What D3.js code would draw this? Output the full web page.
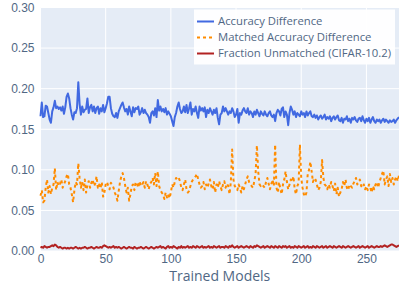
<!DOCTYPE html>
<meta charset="utf-8">
<style>
body { margin: 0; background: #fff; }
svg { font-family: "Open Sans", "DejaVu Sans", sans-serif; }
.tick text { fill: #506784; font-size: 12px; }
.grid line { stroke: #fff; stroke-width: 1; }
</style>
<body>
<svg id="chart" width="399" height="285"></svg>
<script src="https://cdn.jsdelivr.net/npm/d3@7"></script>
<script>

var accDiff = [
  .166,.183,.165,.166,.179,.178,.17,.162,.158,.172,
  .177,.185,.176,.178,.175,.177,.173,.178,.169,.177,
  .19,.194,.188,.176,.168,.162,.171,.17,.176,.208,
  .181,.168,.178,.171,.174,.175,.188,.17,.177,.18,
  .172,.178,.17,.176,.178,.169,.176,.172,.18,.171,
  .176,.182,.19,.19,.176,.169,.166,.165,.17,.164,
  .172,.176,.18,.183,.177,.172,.175,.168,.178,.172,
  .166,.177,.171,.176,.175,.178,.168,.171,.176,.17,
  .174,.17,.168,.165,.158,.17,.172,.167,.176,.165,
  .186,.173,.178,.172,.175,.171,.176,.168,.172,.169,
  .166,.16,.154,.165,.17,.178,.183,.175,.17,.172,
  .178,.171,.18,.17,.176,.183,.168,.175,.172,.178,
  .17,.164,.178,.173,.176,.172,.177,.165,.174,.17,
  .176,.172,.168,.174,.17,.176,.164,.156,.168,.17,
  .178,.172,.176,.172,.168,.172,.17,.176,.172,.165,
  .168,.175,.158,.17,.168,.173,.176,.172,.17,.176,
  .168,.172,.17,.165,.172,.168,.174,.17,.166,.172,
  .169,.167,.172,.168,.166,.17,.172,.167,.165,.168,
  .16,.17,.174,.172,.167,.175,.177,.165,.172,.168,
  .155,.17,.178,.174,.168,.172,.165,.17,.168,.166,
  .172,.168,.17,.165,.172,.167,.17,.172,.166,.165,
  .168,.164,.167,.162,.165,.167,.163,.165,.168,.162,
  .165,.163,.166,.16,.164,.166,.162,.165,.167,.161,
  .16,.164,.158,.163,.162,.166,.16,.163,.158,.164,
  .162,.165,.161,.159,.163,.164,.16,.166,.161,.158,
  .163,.16,.164,.158,.162,.165,.16,.158,.162,.16,
  .162,.158,.161,.163,.159,.162,.16,.158,.161,.159,
  .16,.162,.158,.161,.163,.165
];

var matchedDiff = [
  .068,.075,.06,.062,.078,.088,.072,.08,.07,.078,
  .082,.102,.075,.085,.08,.083,.088,.078,.082,.086,
  .092,.095,.082,.078,.07,.06,.075,.085,.082,.108,
  .09,.078,.085,.075,.088,.072,.082,.086,.078,.084,
  .088,.08,.083,.092,.078,.082,.077,.085,.067,.072,
  .082,.085,.08,.076,.084,.082,.078,.072,.068,.062,
  .074,.085,.092,.096,.09,.08,.072,.078,.062,.07,
  .08,.082,.075,.085,.083,.078,.086,.08,.082,.085,
  .078,.086,.082,.076,.083,.085,.09,.082,.096,.08,
  .098,.08,.075,.072,.07,.064,.072,.066,.07,.065,
  .072,.082,.078,.085,.09,.088,.09,.086,.078,.075,
  .082,.088,.076,.072,.074,.08,.085,.088,.09,.092,
  .095,.088,.082,.078,.08,.085,.076,.082,.078,.083,
  .088,.08,.076,.085,.072,.082,.078,.086,.08,.075,
  .082,.086,.078,.083,.08,.07,.085,.125,.088,.08,
  .078,.075,.082,.078,.072,.08,.076,.082,.088,.092,
  .085,.082,.08,.078,.086,.095,.13,.098,.082,.08,
  .082,.08,.078,.085,.09,.083,.076,.082,.088,.08,
  .131,.078,.072,.085,.076,.07,.082,.088,.098,.085,
  .076,.082,.088,.085,.092,.076,.07,.08,.084,.131,
  .09,.078,.07,.067,.072,.095,.1,.11,.098,.085,
  .09,.088,.082,.075,.078,.085,.112,.09,.082,.08,
  .076,.082,.078,.085,.08,.074,.083,.07,.078,.067,
  .072,.076,.085,.08,.088,.078,.075,.082,.08,.078,
  .083,.086,.09,.082,.085,.088,.08,.078,.082,.076,
  .08,.075,.082,.078,.072,.08,.076,.082,.085,.078,
  .085,.09,.095,.099,.082,.088,.092,.08,.095,.085,
  .09,.082,.088,.092,.086,.093
];

var fracUnmatched = [
  .004,.005,.004,.006,.005,.004,.005,.005,.006,.007,
  .006,.008,.007,.005,.004,.005,.004,.003,.004,.004,
  .003,.004,.003,.004,.004,.003,.004,.005,.004,.003,
  .004,.003,.004,.004,.005,.004,.003,.004,.004,.005,
  .004,.003,.004,.005,.004,.004,.005,.004,.006,.007,
  .006,.005,.004,.005,.004,.005,.006,.004,.005,.004,
  .005,.004,.003,.004,.005,.004,.003,.004,.005,.004,
  .004,.003,.005,.004,.003,.004,.004,.005,.004,.003,
  .004,.005,.004,.003,.004,.005,.004,.003,.004,.005,
  .004,.005,.006,.004,.005,.004,.003,.005,.006,.004,
  .005,.004,.006,.005,.004,.003,.005,.004,.006,.004,
  .005,.004,.005,.006,.004,.005,.004,.006,.005,.004,
  .006,.005,.004,.005,.006,.004,.005,.004,.005,.006,
  .004,.005,.004,.006,.005,.004,.005,.006,.004,.005,
  .005,.004,.006,.005,.004,.006,.005,.007,.005,.004,
  .005,.006,.004,.005,.006,.005,.004,.005,.006,.005,
  .004,.006,.005,.004,.006,.005,.007,.006,.005,.004,
  .005,.006,.004,.005,.006,.005,.004,.006,.005,.004,
  .006,.005,.004,.006,.005,.004,.006,.005,.006,.004,
  .005,.006,.004,.005,.004,.006,.005,.004,.006,.005,
  .004,.005,.006,.004,.005,.006,.004,.005,.004,.006,
  .005,.004,.006,.005,.004,.005,.006,.004,.005,.006,
  .004,.005,.006,.005,.004,.006,.005,.004,.005,.006,
  .005,.004,.006,.005,.004,.005,.006,.005,.004,.005,
  .006,.005,.004,.005,.006,.004,.005,.006,.005,.004,
  .005,.006,.004,.005,.006,.005,.004,.005,.006,.005,
  .005,.006,.005,.006,.007,.006,.005,.006,.007,.008,
  .008,.007,.006,.005,.006,.007
];

var seriesNames = ["Accuracy Difference", "Matched Accuracy Difference", "Fraction Unmatched (CIFAR-10.2)"];
var seriesColors = ["#4169e1", "#ff8c00", "#b22222"];
var seriesDash = [null, "3,3", null];
var yTicks = [0, 0.05, 0.10, 0.15, 0.20, 0.25, 0.30];
var xTicks = [0, 50, 100, 150, 200, 250];

var margin = {top: 7.5, right: 0, bottom: 34, left: 40.5};
var width = 399, height = 285;

var svg = d3.select("#chart");

var x = d3.scaleLinear().domain([0, accDiff.length - 1]).range([margin.left, width - margin.right]);
var y = d3.scaleLinear().domain([0, 0.3]).range([height - margin.bottom, margin.top]);

svg.append("rect")
  .attr("x", margin.left).attr("y", margin.top)
  .attr("width", width - margin.right - margin.left)
  .attr("height", height - margin.bottom - margin.top)
  .attr("fill", "#e5ecf6");

// grid
svg.append("g").attr("class", "grid")
  .selectAll("line").data(yTicks).enter().append("line")
  .attr("x1", margin.left).attr("x2", width - margin.right)
  .attr("y1", function(d) { return y(d); }).attr("y2", function(d) { return y(d); })
  .attr("stroke-width", function(d) { return d === 0 ? 2 : 1; });

svg.append("g").attr("class", "grid")
  .selectAll("line").data(xTicks).enter().append("line")
  .attr("y1", margin.top).attr("y2", height - margin.bottom)
  .attr("x1", function(d) { return x(d); }).attr("x2", function(d) { return x(d); })
  .attr("stroke-width", function(d) { return d === 0 ? 2 : 1; });

// axes
var yAxis = svg.append("g")
  .attr("transform", "translate(" + (margin.left - 3) + ",0)")
  .call(d3.axisLeft(y).tickValues(yTicks).tickFormat(d3.format(".2f")).tickSize(0));
yAxis.select(".domain").remove();

var xAxis = svg.append("g")
  .attr("transform", "translate(0," + (height - margin.bottom) + ")")
  .call(d3.axisBottom(x).tickValues(xTicks).tickFormat(d3.format("d")).tickSize(0));
xAxis.select(".domain").remove();

svg.append("text")
  .attr("x", (margin.left + width - margin.right) / 2)
  .attr("y", 280.5)
  .attr("text-anchor", "middle")
  .attr("fill", "#506784")
  .style("font-size", "14px")
  .text("Trained Models");

// lines
var allSeries = [accDiff, matchedDiff, fracUnmatched];
var line = d3.line()
  .x(function(d, i) { return x(i); })
  .y(function(d) { return y(d); });

var plot = svg.append("g");
allSeries.forEach(function(s, k) {
  plot.append("path")
    .datum(s)
    .attr("fill", "none")
    .attr("stroke", seriesColors[k])
    .attr("stroke-width", 2)
    .attr("stroke-linejoin", "round")
    .attr("stroke-dasharray", seriesDash[k])
    .attr("d", line);
});

// legend
var legend = svg.append("g").attr("transform", "translate(194,9.5)");
legend.append("rect")
  .attr("width", 201).attr("height", 55)
  .attr("fill", "#fff").attr("fill-opacity", 0.95);

var items = legend.selectAll(".item")
  .data(seriesNames).enter().append("g")
  .attr("transform", function(d, i) { return "translate(0," + (12 + i * 16) + ")"; });

items.append("line")
  .attr("x1", 3).attr("x2", 20)
  .attr("stroke", function(d, i) { return seriesColors[i]; })
  .attr("stroke-width", 2)
  .attr("stroke-dasharray", function(d, i) { return seriesDash[i]; });

items.append("text")
  .attr("x", 24).attr("dy", "0.35em")
  .attr("fill", "#506784")
  .style("font-size", "11.3px")
  .text(function(d) { return d; });

</script>
</body>
